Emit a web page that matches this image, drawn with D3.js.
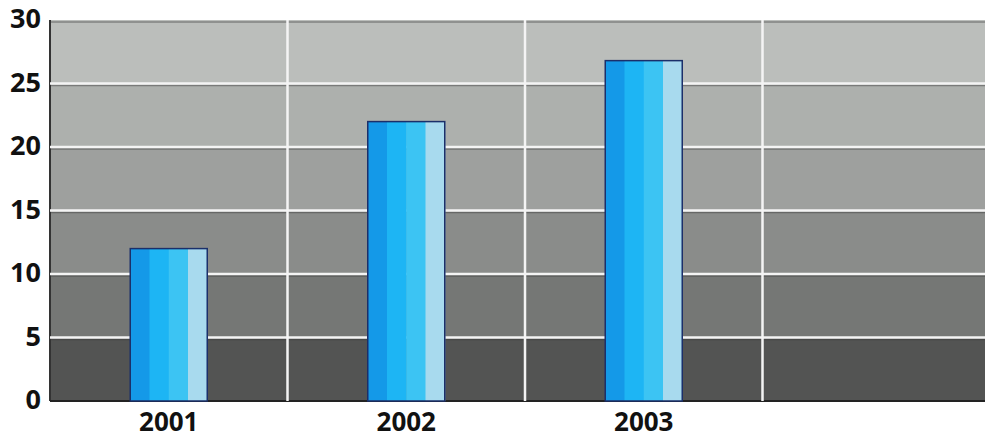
<!DOCTYPE html>
<html>
<head>
<meta charset="utf-8">
<script src="https://cdn.jsdelivr.net/npm/d3@7"></script>
<style>
  body { margin: 0; background: #fff; overflow: hidden; }
  text { font-family: "Open Sans", "Noto Sans", sans-serif; font-weight: 700; fill: #111; }
</style>
</head>
<body>
<div id="chart"></div>
<script>
const categories = ["2001", "2002", "2003", ""];
const values = [12, 22, 26.8];
const yTicks = [0, 5, 10, 15, 20, 25, 30];
// band fills from bottom (0-5) to top (25-30)
const bandColors = ["#535453", "#757775", "#8a8c8a", "#9ea09e", "#adb0ad", "#bbbebb"];
const stripeColors = ["#1499e8", "#1db5f4", "#3cc4f3", "#a8daee"];

const width = 985, height = 440;
const margin = { top: 20, left: 50, bottom: 39, right: -15 };
const iwidth = width - margin.left - margin.right;
const iheight = height - margin.top - margin.bottom;

const svg = d3.select("#chart").append("svg")
  .attr("width", width).attr("height", height).style("display", "block");

const g = svg.append("g").attr("transform", `translate(${margin.left},${margin.top})`);

const y = d3.scaleLinear().domain([0, 30]).range([iheight, 0]);
const x = d3.scaleBand().domain(categories).range([0, iwidth]).paddingInner(0).paddingOuter(0);
const barW = 77;

// background bands
const bands = d3.range(yTicks.length - 1).map(i => ({ lo: yTicks[i], hi: yTicks[i + 1], c: bandColors[i] }));
g.selectAll("rect.band").data(bands).enter().append("rect")
  .attr("class", "band")
  .attr("x", 0).attr("width", iwidth)
  .attr("y", d => y(d.hi)).attr("height", d => y(d.lo) - y(d.hi))
  .attr("fill", d => d.c);

// dark top edge of each band (printed look)
g.selectAll("line.edge").data(bands).enter().append("line")
  .attr("x1", 0).attr("x2", iwidth)
  .attr("y1", d => y(d.hi) + 2).attr("y2", d => y(d.hi) + 2)
  .attr("stroke", "#3a3a3a").attr("stroke-opacity", 0.45).attr("stroke-width", 1.5);

// left dark border
g.append("line").attr("x1", 0).attr("x2", 0).attr("y1", 0).attr("y2", iheight)
  .attr("stroke", "#333").attr("stroke-width", 2);
g.append("line").attr("x1", 0).attr("x2", iwidth).attr("y1", iheight).attr("y2", iheight)
  .attr("stroke", "#222").attr("stroke-width", 2);

// white gridlines
g.selectAll("line.hgrid").data(yTicks.slice(1, -1)).enter().append("line")
  .attr("x1", 0).attr("x2", iwidth)
  .attr("y1", d => y(d)).attr("y2", d => y(d))
  .attr("stroke", "#f4f4f4").attr("stroke-width", 2.5);
g.selectAll("line.vgrid").data(categories.slice(1)).enter().append("line")
  .attr("x1", d => x(d)).attr("x2", d => x(d))
  .attr("y1", 0).attr("y2", iheight)
  .attr("stroke", "#f4f4f4").attr("stroke-width", 2.5);

// bars with stripes
const data = values.map((v, i) => ({ cat: categories[i], v }));
const bar = g.selectAll("g.bar").data(data).enter().append("g").attr("class", "bar")
  .attr("transform", d => `translate(${x(d.cat) + x.bandwidth() / 2 - barW / 2},0)`);
stripeColors.forEach((c, k) => {
  bar.append("rect")
    .attr("x", k * barW / 4).attr("width", barW / 4 + 0.5)
    .attr("y", d => y(d.v)).attr("height", d => iheight - y(d.v))
    .attr("fill", c);
});
bar.append("rect")
  .attr("x", 0).attr("width", barW)
  .attr("y", d => y(d.v)).attr("height", d => iheight - y(d.v))
  .attr("fill", "none").attr("stroke", "#1b2f6a").attr("stroke-width", 1.5);

// axes labels
g.selectAll("text.ylab").data(yTicks).enter().append("text")
  .attr("x", -9).attr("y", d => y(d)).attr("dy", "0.3em")
  .attr("text-anchor", "end").attr("font-size", 27)
  .text(d => d);
g.selectAll("text.xlab").data(categories.filter(c => c)).enter().append("text")
  .attr("x", d => x(d) + x.bandwidth() / 2).attr("y", iheight + 30)
  .attr("text-anchor", "middle").attr("font-size", 26)
  .text(d => d);
</script>
</body>
</html>
